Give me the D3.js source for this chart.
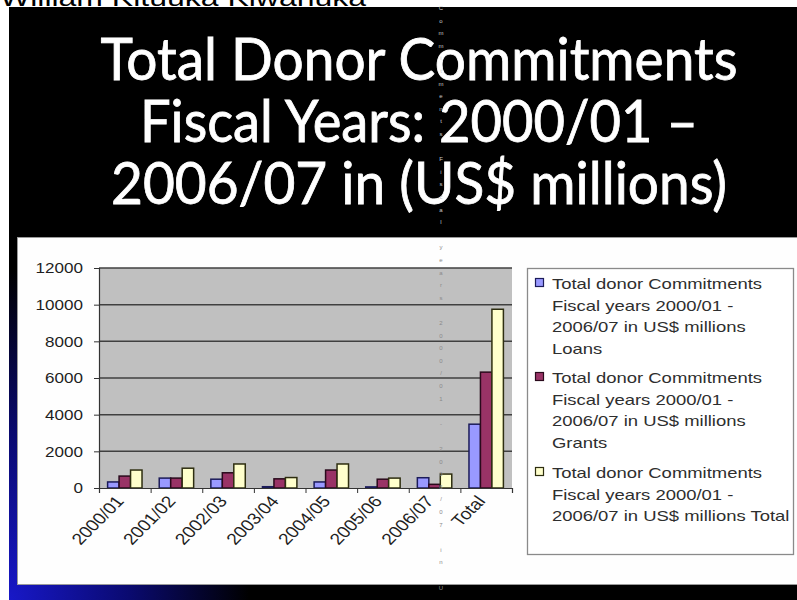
<!DOCTYPE html>
<html>
<head>
<meta charset="utf-8">
<script src="https://cdn.jsdelivr.net/npm/d3@7"></script>
<style>
  html, body { margin: 0; padding: 0; background: #fff; }
  svg { display: block; }
</style>
</head>
<body>
<svg id="chart" width="797" height="600"></svg>
<script>
// Fiscal years and the three series (US$ millions)
const categories = ["2000/01", "2001/02", "2002/03", "2003/04", "2004/05", "2005/06", "2006/07", "Total"];
const loans  = [330, 540, 480, 70, 330, 60, 560, 3480];
const grants = [650, 540, 830, 500, 980, 480, 200, 6320];
const totals = [980, 1080, 1310, 570, 1310, 540, 760, 9750];
const yTicks = [0, 2000, 4000, 6000, 8000, 10000, 12000];

const seriesNames = ["Loans", "Grants", "Total"];
const seriesFill   = ["#9999ff", "#993366", "#ffffcc"];
const seriesStroke = ["#1c1c5a", "#2a0a1c", "#2e2e10"];
const seriesValues = [loans, grants, totals];

const legendLines = [
  ["Total donor Commitments", "Fiscal years 2000/01 -", "2006/07 in US$ millions", "Loans"],
  ["Total donor Commitments", "Fiscal years 2000/01 -", "2006/07 in US$ millions", "Grants"],
  ["Total donor Commitments", "Fiscal years 2000/01 -", "2006/07 in US$ millions Total"]
];
const titleLines = ["Total Donor Commitments", "Fiscal Years: 2000/01 \u2013", "2006/07 in (US$ millions)"];

const svg = d3.select("#chart");
const defs = svg.append("defs");

// ---- slide background ----
const glow = defs.append("radialGradient")
  .attr("id", "slideGlow")
  .attr("gradientUnits", "userSpaceOnUse")
  .attr("cx", 0).attr("cy", 0).attr("r", 1)
  .attr("gradientTransform", "translate(9,600) scale(240,330)");
glow.append("stop").attr("offset", 0).attr("stop-color", "#1818c8");
glow.append("stop").attr("offset", 0.5).attr("stop-color", "#0a0a70");
glow.append("stop").attr("offset", 1).attr("stop-color", "#000000");

svg.append("rect").attr("x", 0).attr("y", 0).attr("width", 797).attr("height", 600).attr("fill", "#ffffff");
svg.append("text")
  .attr("x", 0).attr("y", 6)
  .attr("font-family", "Liberation Sans, Arial, sans-serif")
  .attr("font-size", 24)
  .attr("textLength", 366).attr("lengthAdjust", "spacingAndGlyphs")
  .attr("fill", "#000")
  .text("William Kituuka Kiwanuka");
svg.append("rect").attr("x", 9).attr("y", 7).attr("width", 788).attr("height", 593).attr("fill", "url(#slideGlow)");

// slide title
svg.append("g").selectAll("text").data(titleLines).join("text")
  .attr("x", 419)
  .attr("y", (d, i) => [80, 142, 204][i])
  .attr("text-anchor", "middle")
  .attr("font-family", "Lato, 'Open Sans', sans-serif")
  .attr("font-size", 58)
  .attr("textLength", (d, i) => [637, 558, 616][i])
  .attr("lengthAdjust", "spacingAndGlyphs")
  .attr("fill", "#ffffff")
  .attr("stroke", "#ffffff").attr("stroke-width", 0.8)
  .text(d => d);

// chart area
svg.append("rect")
  .attr("x", 17.5).attr("y", 237.5).attr("width", 790).attr("height", 347)
  .attr("fill", "#fefefe").attr("stroke", "#9a9a9a").attr("stroke-width", 1);

// ---- plot ----
const plot = { left: 99, right: 512, top: 268, bottom: 488 };
const x = d3.scaleBand().domain(categories).range([plot.left, plot.right]).paddingInner(0).paddingOuter(0);
const x1 = d3.scaleBand().domain(seriesNames).range([0, x.bandwidth()]).paddingInner(0).paddingOuter(0.75);
const y = d3.scaleLinear().domain([0, 12000]).range([plot.bottom, plot.top]);
const xEdge = d3.scaleLinear().domain([0, categories.length]).range([plot.left, plot.right]);

svg.append("rect")
  .attr("x", plot.left).attr("y", plot.top)
  .attr("width", plot.right - plot.left).attr("height", plot.bottom - plot.top)
  .attr("fill", "#c0c0c0");

// gridlines
svg.append("g").selectAll("line").data(yTicks.filter(v => v > 0)).join("line")
  .attr("x1", plot.left).attr("x2", plot.right)
  .attr("y1", d => y(d)).attr("y2", d => y(d))
  .attr("stroke", "#404040").attr("stroke-width", 1.5);

// bars
const groups = svg.append("g").selectAll("g").data(categories).join("g")
  .attr("transform", d => `translate(${x(d)},0)`);
groups.selectAll("rect")
  .data((c, ci) => seriesNames.map((s, si) => ({ s, si, v: seriesValues[si][ci] })))
  .join("rect")
  .attr("x", d => x1(d.s))
  .attr("y", d => y(d.v))
  .attr("width", x1.bandwidth())
  .attr("height", d => y(0) - y(d.v))
  .attr("fill", d => seriesFill[d.si])
  .attr("stroke", d => seriesStroke[d.si])
  .attr("stroke-width", 1.5);

// y axis
const yAxis = svg.append("g")
  .attr("transform", `translate(${plot.left},0)`)
  .call(d3.axisLeft(y).tickValues(yTicks).tickSize(5).tickPadding(0).tickFormat(d3.format("d")));
yAxis.select(".domain").attr("stroke", "#333").attr("stroke-width", 1.2);
yAxis.selectAll(".tick line").attr("stroke", "#333");
yAxis.selectAll(".tick text")
  .attr("x", 0).attr("dy", "0.35em")
  .attr("text-anchor", "end")
  .attr("transform", "translate(-16,0) scale(1.22,1)")
  .attr("font-family", "Liberation Sans, Arial, sans-serif")
  .attr("font-size", 14)
  .attr("fill", "#1e1e1e");

// x axis with ticks on category boundaries
const xAxis = svg.append("g")
  .attr("transform", `translate(0,${plot.bottom})`)
  .call(d3.axisBottom(xEdge).ticks(categories.length).tickSize(5).tickFormat(""));
xAxis.select(".domain").attr("stroke", "#333").attr("stroke-width", 1.2);
xAxis.selectAll(".tick line").attr("stroke", "#333");

// rotated category labels
svg.append("g").selectAll("text").data(categories).join("text")
  .attr("transform", d => `translate(${x(d) + x.bandwidth() / 2 - 5},${plot.bottom + 10}) scale(1.2,1) rotate(-50)`)
  .attr("text-anchor", "end")
  .attr("dy", "0.35em")
  .attr("font-family", "Liberation Sans, Arial, sans-serif")
  .attr("font-size", 16)
  .attr("fill", "#1e1e1e")
  .text(d => d);

// ---- legend ----
svg.append("rect")
  .attr("x", 527.5).attr("y", 268.5).attr("width", 266).attr("height", 286)
  .attr("fill", "#ffffff").attr("stroke", "#8a8a8a").attr("stroke-width", 1.3);
const itemY = [289, 383, 478];
const legend = svg.append("g").selectAll("g").data(legendLines).join("g");
legend.append("rect")
  .attr("x", 535.5).attr("y", (d, i) => itemY[i] - 10.5)
  .attr("width", 8).attr("height", 8)
  .attr("fill", (d, i) => seriesFill[i])
  .attr("stroke", (d, i) => seriesStroke[i]).attr("stroke-width", 1.2);
legend.each(function (lines, i) {
  d3.select(this).selectAll("text").data(lines).join("text")
    .attr("transform", (d, j) => `translate(552,${itemY[i] + j * 21.5}) scale(1.23,1)`)
    .attr("font-family", "Liberation Sans, Arial, sans-serif")
    .attr("font-size", 15)
    .attr("fill", "#2e2e2e")
    .text(d => d);
});

// vertical column of stray glyphs running down the slide
const strip = "Commitments Fiscal years 2000/01 - 2006/07 in US$ millions".split("")
  .map((ch, i) => ({ ch, y: 10 + i * 12.6 }))
  .filter(d => d.y < 594);
svg.append("g").selectAll("text").data(strip).join("text")
  .attr("x", 441).attr("y", d => d.y)
  .attr("text-anchor", "middle")
  .attr("font-family", "Liberation Sans, Arial, sans-serif")
  .attr("font-size", 6)
  .attr("fill", d => (d.y < 236 ? "#c8c8c8" : "#8a8a8a"))
  .text(d => d.ch);
</script>
</body>
</html>
